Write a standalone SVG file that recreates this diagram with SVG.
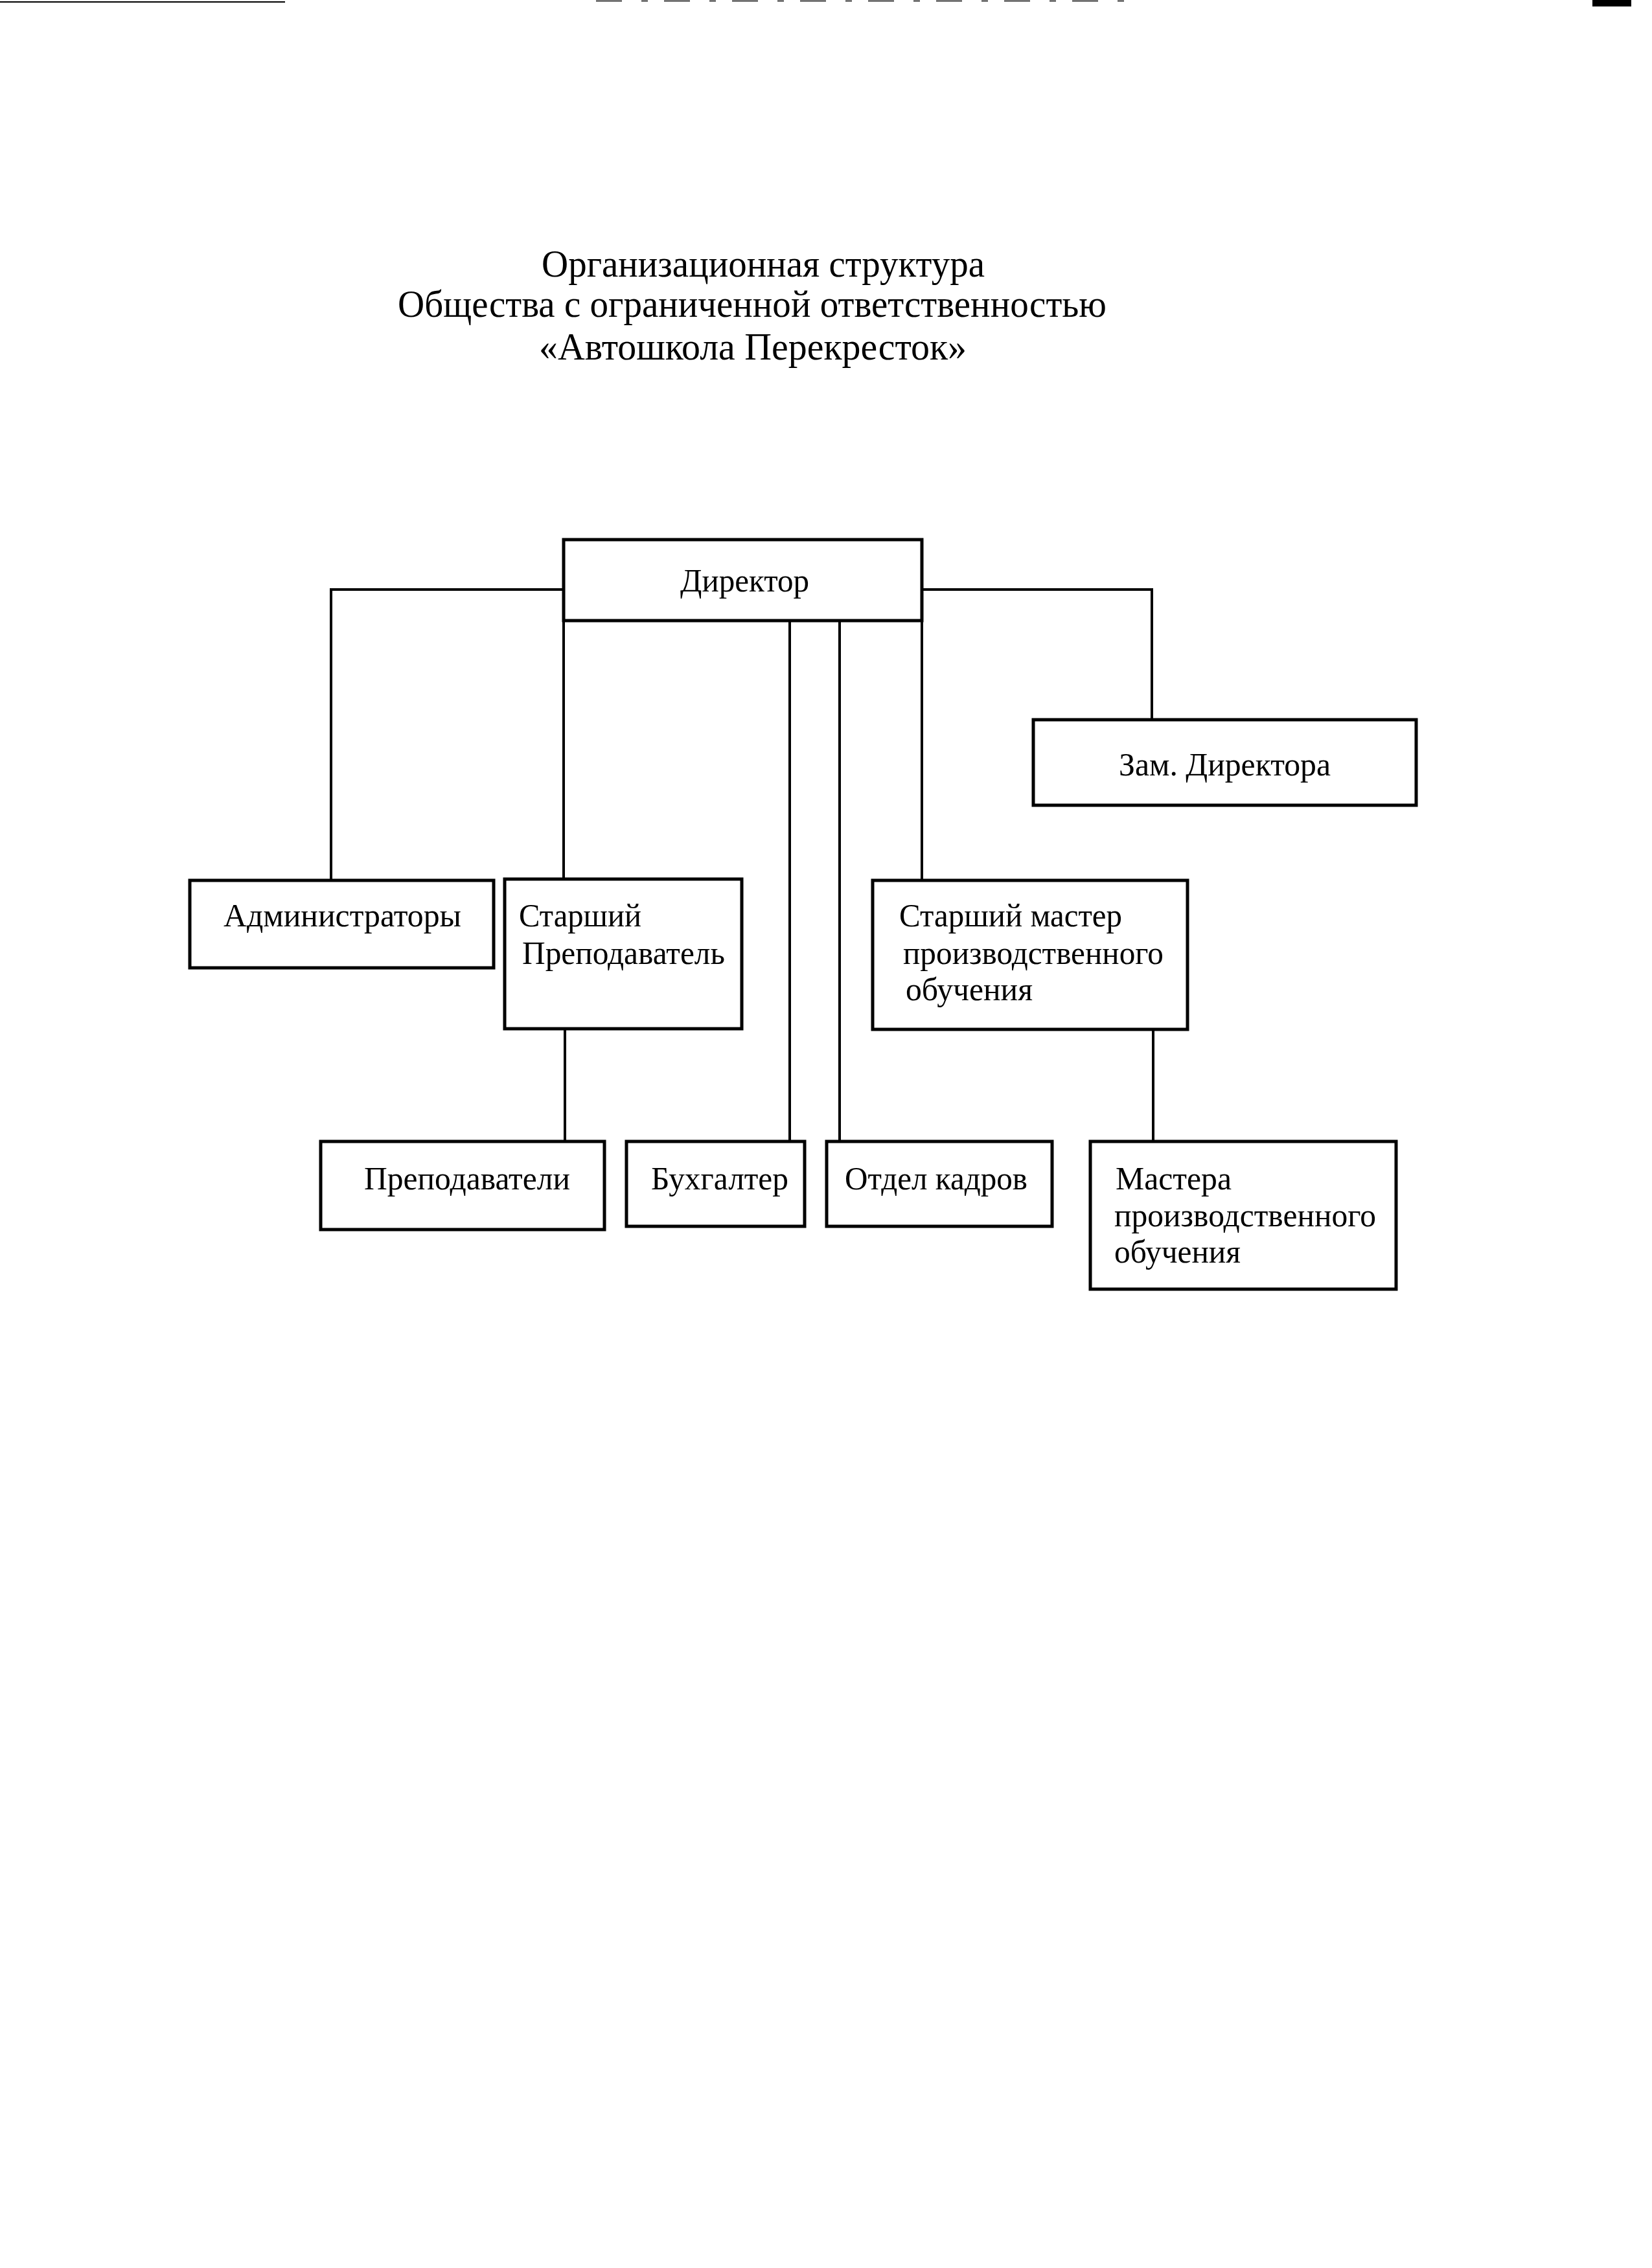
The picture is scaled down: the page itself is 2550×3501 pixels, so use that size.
<svg xmlns="http://www.w3.org/2000/svg" width="2550" height="3501" viewBox="0 0 2550 3501">
<style>
.box{fill:none;stroke:#000;stroke-width:5}
.con{fill:none;stroke:#000;stroke-width:4}
text{font-family:"Liberation Serif","Times New Roman",serif;fill:#000}
.t{font-size:59px}
.n{font-size:51px}
</style>
<rect width="2550" height="3501" fill="#fff"/>
<g id="scan-marks">
<line x1="0" y1="3" x2="440" y2="3" stroke="#000" stroke-width="2"/>
<line x1="920" y1="1.5" x2="1748" y2="1.5" stroke="#000" stroke-width="1.5" stroke-dasharray="40,30,10,25"/>
<rect x="2458" y="0" width="60" height="10" fill="#000"/>
</g>
<g id="title">
<text class="t" x="836" y="427" textLength="684" lengthAdjust="spacingAndGlyphs">Организационная структура</text>
<text class="t" x="614" y="489" textLength="1094" lengthAdjust="spacingAndGlyphs">Общества с ограниченной ответственностью</text>
<text class="t" x="832" y="555" textLength="660" lengthAdjust="spacingAndGlyphs">«Автошкола Перекресток»</text>
</g>
<g id="connectors">
<polyline class="con" points="870,910 511,910 511,1359"/>
<line class="con" x1="870" y1="958" x2="870" y2="1357"/>
<line class="con" x1="1219" y1="958" x2="1219" y2="1762"/>
<line class="con" x1="1296" y1="958" x2="1296" y2="1762"/>
<line class="con" x1="1423" y1="958" x2="1423" y2="1359"/>
<polyline class="con" points="1423,910 1778,910 1778,1111"/>
<line class="con" x1="872" y1="1588" x2="872" y2="1762"/>
<line class="con" x1="1780" y1="1589" x2="1780" y2="1762"/>
</g>
<g id="director">
<rect class="box" x="870" y="833" width="553" height="125"/>
<text class="n" x="1050" y="913" textLength="199" lengthAdjust="spacingAndGlyphs">Директор</text>
</g>
<g id="deputy">
<rect class="box" x="1595" y="1111" width="591" height="132"/>
<text class="n" x="1727" y="1197" textLength="327" lengthAdjust="spacingAndGlyphs">Зам. Директора</text>
</g>
<g id="admins">
<rect class="box" x="293" y="1359" width="469" height="135"/>
<text class="n" x="345" y="1430" textLength="367" lengthAdjust="spacingAndGlyphs">Администраторы</text>
</g>
<g id="senior-teacher">
<rect class="box" x="779" y="1357" width="366" height="231"/>
<text class="n" x="801" y="1430" textLength="189" lengthAdjust="spacingAndGlyphs">Старший</text>
<text class="n" x="806" y="1488" textLength="313" lengthAdjust="spacingAndGlyphs">Преподаватель</text>
</g>
<g id="senior-master">
<rect class="box" x="1347" y="1359" width="486" height="230"/>
<text class="n" x="1388" y="1430" textLength="344" lengthAdjust="spacingAndGlyphs">Старший мастер</text>
<text class="n" x="1394" y="1488" textLength="402" lengthAdjust="spacingAndGlyphs">производственного</text>
<text class="n" x="1398" y="1544" textLength="196" lengthAdjust="spacingAndGlyphs">обучения</text>
</g>
<g id="teachers">
<rect class="box" x="495" y="1762" width="438" height="136"/>
<text class="n" x="562" y="1836" textLength="318" lengthAdjust="spacingAndGlyphs">Преподаватели</text>
</g>
<g id="accountant">
<rect class="box" x="967" y="1762" width="275" height="131"/>
<text class="n" x="1005" y="1836" textLength="212" lengthAdjust="spacingAndGlyphs">Бухгалтер</text>
</g>
<g id="hr">
<rect class="box" x="1276" y="1762" width="348" height="131"/>
<text class="n" x="1304" y="1836" textLength="282" lengthAdjust="spacingAndGlyphs">Отдел кадров</text>
</g>
<g id="masters">
<rect class="box" x="1683" y="1762" width="472" height="228"/>
<text class="n" x="1722" y="1836" textLength="179" lengthAdjust="spacingAndGlyphs">Мастера</text>
<text class="n" x="1720" y="1893" textLength="404" lengthAdjust="spacingAndGlyphs">производственного</text>
<text class="n" x="1720" y="1949" textLength="195" lengthAdjust="spacingAndGlyphs">обучения</text>
</g>
</svg>
